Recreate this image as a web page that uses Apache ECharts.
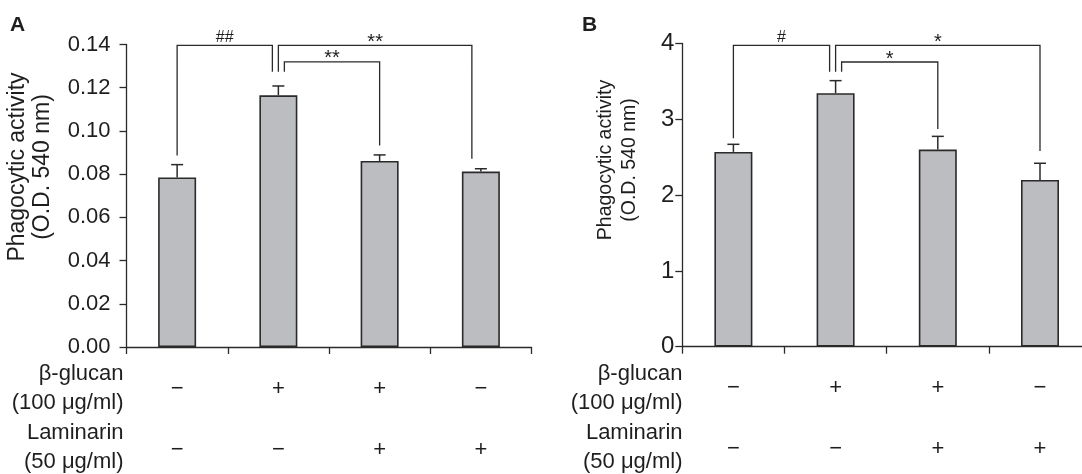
<!DOCTYPE html>
<html>
<head>
<meta charset="utf-8">
<script src="https://cdn.jsdelivr.net/npm/echarts@6/dist/echarts.min.js"></script>
<style>
html,body{margin:0;padding:0;background:#fff;}
#chart{width:1082px;height:474px;}
</style>
</head>
<body>
<div id="chart"></div>
<script>
// ---- data ----
const categories = ['Control', 'β-glucan', 'β-glucan + Laminarin', 'Laminarin'];
const glucanRow = ['−', '+', '+', '−'];
const laminarinRow = ['−', '−', '+', '+'];
const rowLabelGlucan = 'β-glucan\n(100 μg/ml)';
const rowLabelLaminarin = 'Laminarin\n(50 μg/ml)';
const yTitle = 'Phagocytic activity\n(O.D. 540 nm)';

const valuesA = [0.0785, 0.1165, 0.0861, 0.0812];
const errorsA = [0.0059, 0.0043, 0.0028, 0.0013];
const valuesB = [2.57, 3.345, 2.60, 2.20];
const errorsB = [0.10, 0.165, 0.175, 0.22];

const yTicksA = ['0.00', '0.02', '0.04', '0.06', '0.08', '0.10', '0.12', '0.14'];
const yTicksB = ['0', '1', '2', '3', '4'];

// brackets: [fromIndex, toIndex, bracketLevel, fromEndValue, toEndValue]
const bracketsA = [[0, 1, 0.1396, 0.0886, 0.1274], [1, 3, 0.1396, 0.1274, 0.0871], [1, 2, 0.1320, 0.1274, 0.0932]];
const bracketLabelsA = ['##', '**', '**'];
const bracketsB = [[0, 1, 3.976, 2.749, 3.628], [1, 3, 3.976, 3.628, 2.582], [1, 2, 3.756, 3.628, 2.872]];
const bracketLabelsB = ['#', '*', '*'];

// ---- styles ----
const FONT = 'Liberation Sans, Arial, sans-serif';
const INK = '#1e1e1e';
const LINE = '#2a2a2a';
const shiftsA = [[0, -6], [0, -9], [6, 0]];
const shiftsB = [[0, -6], [0, 0], [6, 0]];

const chart = echarts.init(document.getElementById('chart'), null, {renderer: 'canvas'});

function errorSeries(values, errors, xi, yi) {
  return {
    type: 'custom', xAxisIndex: xi, yAxisIndex: yi, silent: true, clip: false, z: 3,
    encode: {x: 0, y: 1},
    data: values.map((v, i) => [i, v, v + errors[i]]),
    renderItem(params, api) {
      const p0 = api.coord([api.value(0), api.value(1)]);
      const p1 = api.coord([api.value(0), api.value(2)]);
      const hw = 6;
      return {type: 'group', children: [
        {type: 'line', shape: {x1: p0[0], y1: p0[1], x2: p1[0], y2: p1[1]}, style: {stroke: LINE, lineWidth: 1.5}},
        {type: 'line', shape: {x1: p1[0] - hw, y1: p1[1], x2: p1[0] + hw, y2: p1[1]}, style: {stroke: LINE, lineWidth: 1.5}}
      ]};
    }
  };
}

function bracketSeries(brackets, labels, shifts, xi, yi) {
  return {
    type: 'custom', xAxisIndex: xi, yAxisIndex: yi, silent: true, clip: false, z: 4,
    encode: {x: 0, y: 2},
    data: brackets,
    renderItem(params, api) {
      const i = params.dataIndex;
      const p1 = api.coord([api.value(0), api.value(3)]);
      const p2 = api.coord([api.value(1), api.value(4)]);
      const yl = api.coord([api.value(0), api.value(2)])[1];
      const x1 = p1[0] + shifts[i][0];
      const x2 = p2[0] + shifts[i][1];
      const lab = labels[i];
      const isHash = lab.indexOf('#') >= 0;
      return {type: 'group', children: [
        {type: 'polyline', shape: {points: [[x1, p1[1]], [x1, yl], [x2, yl], [x2, p2[1]]]},
         style: {stroke: LINE, lineWidth: 1.3, fill: null}},
        {type: 'text', x: (x1 + x2) / 2, y: isHash ? yl - 8 : yl - 3,
         style: {text: lab, fontFamily: FONT, fontSize: isHash ? 16 : 20, fill: INK, align: 'center', verticalAlign: 'middle'}}
      ]};
    }
  };
}

function xAxisCfg(gi) {
  return {
    type: 'category', gridIndex: gi, data: categories, boundaryGap: true,
    axisLine: {lineStyle: {color: LINE, width: 1.3}},
    axisTick: {show: true, length: 7, alignWithLabel: false, interval: 0, lineStyle: {color: LINE, width: 1.3}},
    axisLabel: {
      interval: 0, margin: 11, fontFamily: FONT, fontSize: 22, color: INK, lineHeight: 61,
      formatter: (v, idx) => glucanRow[idx] + '\n' + laminarinRow[idx]
    },
    splitLine: {show: false}
  };
}

function yAxisCfg(gi, max, interval, ticks, fontSize, margin) {
  return {
    type: 'value', gridIndex: gi, min: 0, max: max, interval: interval,
    axisLine: {show: true, lineStyle: {color: LINE, width: 1.3}},
    axisTick: {show: true, length: 7, lineStyle: {color: LINE, width: 1.3}},
    axisLabel: {
      margin: margin, fontFamily: FONT, fontSize: fontSize, color: INK,
      formatter: (v) => ticks[Math.round(v / interval)]
    },
    splitLine: {show: false}
  };
}

const barStyle = {color: '#bcbdc1', borderColor: LINE, borderWidth: 1.6};

const option = {
  animation: false,
  backgroundColor: '#fff',
  grid: [
    {left: 126.5, width: 405, top: 44.5, bottom: 127, outerBoundsMode: 'none', containLabel: false},
    {left: 682.3, width: 408.8, top: 43.5, bottom: 127.3, outerBoundsMode: 'none', containLabel: false}
  ],
  xAxis: [xAxisCfg(0), xAxisCfg(1)],
  yAxis: [
    yAxisCfg(0, 0.14, 0.02, yTicksA, 22, 16),
    yAxisCfg(1, 4, 1, yTicksB, 24, 8)
  ],
  series: [
    {type: 'bar', xAxisIndex: 0, yAxisIndex: 0, data: valuesA, barWidth: 38, itemStyle: barStyle, silent: true, z: 2},
    {type: 'bar', xAxisIndex: 1, yAxisIndex: 1, data: valuesB, barWidth: 38, itemStyle: barStyle, silent: true, z: 2},
    errorSeries(valuesA, errorsA, 0, 0),
    errorSeries(valuesB, errorsB, 1, 1),
    bracketSeries(bracketsA, bracketLabelsA, shiftsA, 0, 0),
    bracketSeries(bracketsB, bracketLabelsB, shiftsB, 1, 1)
  ],
  graphic: [
    {type: 'text', x: 10, y: 25.5, style: {text: 'A', fontFamily: FONT, fontWeight: 'bold', fontSize: 21, fill: INK, align: 'left', verticalAlign: 'middle'}},
    {type: 'text', x: 582, y: 25, style: {text: 'B', fontFamily: FONT, fontWeight: 'bold', fontSize: 21, fill: INK, align: 'left', verticalAlign: 'middle'}},
    {type: 'text', x: 30.5, y: 167, rotation: Math.PI / 2, style: {text: yTitle, fontFamily: FONT, fontSize: 23, lineHeight: 25, fill: INK, align: 'center', verticalAlign: 'middle'}},
    {type: 'text', x: 618, y: 160, rotation: Math.PI / 2, style: {text: yTitle, fontFamily: FONT, fontSize: 19.5, lineHeight: 24, fill: INK, align: 'center', verticalAlign: 'middle'}},
    {type: 'text', x: 123.5, y: 388.5, style: {text: rowLabelGlucan, fontFamily: FONT, fontSize: 22, lineHeight: 29.5, fill: INK, align: 'right', verticalAlign: 'middle'}},
    {type: 'text', x: 123.5, y: 447.5, style: {text: rowLabelLaminarin, fontFamily: FONT, fontSize: 22, lineHeight: 29.5, fill: INK, align: 'right', verticalAlign: 'middle'}},
    {type: 'text', x: 682.5, y: 388.5, style: {text: rowLabelGlucan, fontFamily: FONT, fontSize: 22, lineHeight: 29.5, fill: INK, align: 'right', verticalAlign: 'middle'}},
    {type: 'text', x: 682.5, y: 447.5, style: {text: rowLabelLaminarin, fontFamily: FONT, fontSize: 22, lineHeight: 29.5, fill: INK, align: 'right', verticalAlign: 'middle'}}
  ]
};
chart.setOption(option);
</script>
</body>
</html>
